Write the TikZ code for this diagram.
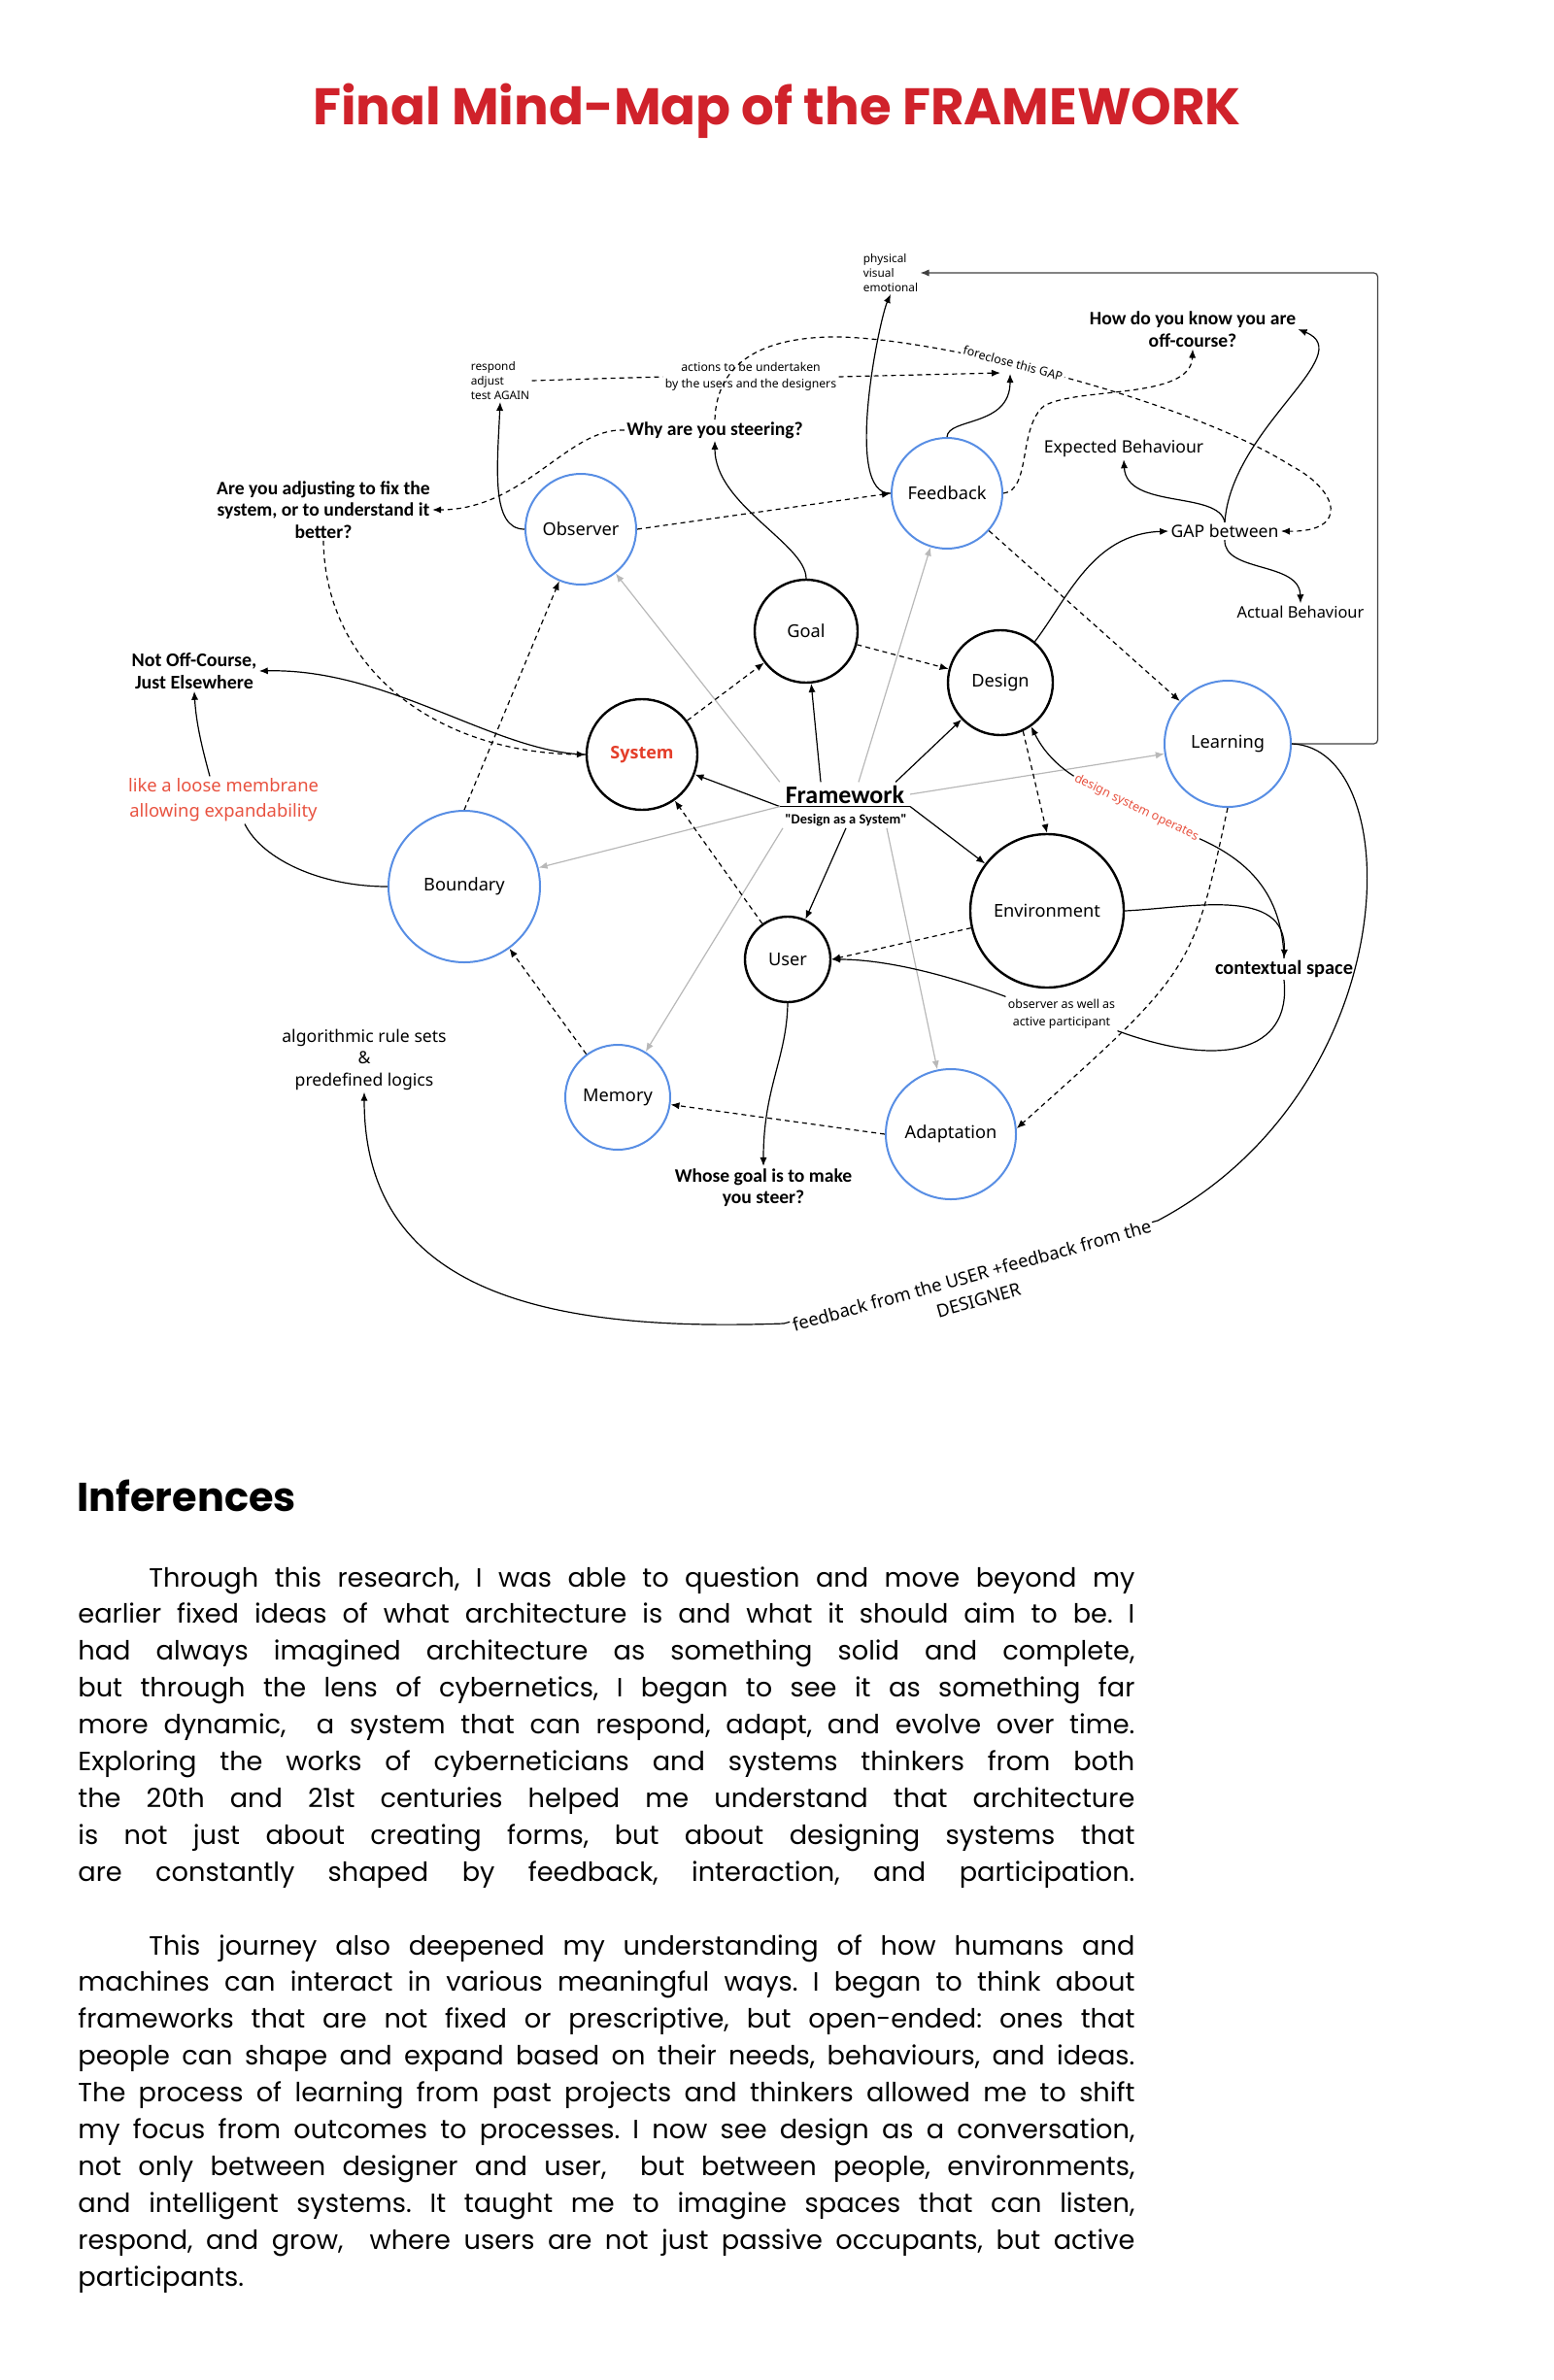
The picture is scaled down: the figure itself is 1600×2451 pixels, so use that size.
\documentclass[tikz,border=0pt]{standalone}
\usepackage{fontspec}
\setmainfont{Poppins}
\newfontfamily\notosans{Noto Sans}
\newfontfamily\opensans{Open Sans}
\newfontfamily\carlito{Carlito}
\usetikzlibrary{arrows.meta,calc}
\definecolor{titlered}{RGB}{208,34,43}
\definecolor{notered}{RGB}{232,82,64}
\definecolor{sysred}{RGB}{228,62,42}
\definecolor{nodeblue}{RGB}{88,142,228}
\definecolor{linegray}{RGB}{184,184,184}
\frenchspacing
% one justified line of the closing text
\newcommand{\fullline}[1]{\hbox to 544pt{#1}}
\tikzset{
% Two circle styles for the mind-map: black rim and blue rim
black node/.style={circle,draw,line width=1.2pt,inner sep=0,font=\notosans\fontsize{9.1}{11}\selectfont},
blue node/.style={circle,draw=nodeblue,line width=1pt,inner sep=0,font=\notosans\fontsize{9.1}{11}\selectfont},
% Free texts round the circles
note text/.style={inner sep=1pt,align=center,font=\notosans\fontsize{8.8}{11.25}\selectfont},
small text/.style={inner sep=1pt,align=left,font=\notosans\fontsize{5.9}{7.5}\selectfont},
bold text/.style={inner sep=1pt,align=center,font=\carlito\bfseries\fontsize{9.8}{11.25}\selectfont},
% Connectors: plain, dashed and grey
bare link/.style={line width=0.6pt},
link/.style={bare link,-{Latex[length=4.5pt,width=3.6pt]}},
dashed line/.style={bare link,dash pattern=on 2.5pt off 2pt},
dashed link/.style={dashed line,-{Latex[length=4.5pt,width=3.6pt]}},
gray link/.style={link,draw=linegray}
}

\begin{document}
\begin{tikzpicture}[x=0.5pt,y=-0.5pt]
\useasboundingbox (0,0) rectangle (1600,2451);
% Title
\node[anchor=base,inner sep=0,text=titlered,font=\bfseries\fontsize{26.5}{30}\selectfont] (title) at (800,129) {Final Mind-Map of the FRAMEWORK};
% The circles
\node[blue node,minimum size=57pt] (obs) at (598,545) {Observer};
\node[blue node,minimum size=57pt] (fb) at (975,508) {Feedback};
\node[black node,minimum size=53pt] (goal) at (830,650) {Goal};
\node[black node,minimum size=54pt] (des) at (1030,703) {Design};
\node[black node,minimum size=57pt,text=sysred,font=\opensans\bfseries\fontsize{9}{11}\selectfont] (sys) at (661,777) {System};
\node[blue node,minimum size=65pt] (lrn) at (1264,766) {Learning};
\node[blue node,minimum size=78pt] (bnd) at (478,913) {Boundary};
\node[black node,minimum size=79pt] (env) at (1078,938) {Environment};
\node[black node,minimum size=44pt] (usr) at (811,988) {User};
\node[blue node,minimum size=54pt] (mem) at (636,1130) {Memory};
\node[blue node,minimum size=67pt] (adp) at (979,1168) {Adaptation};
% Framework in the middle
\node[anchor=base,inner xsep=2.75pt,inner ysep=1.5pt,font=\carlito\bfseries\fontsize{13}{15}\selectfont] (fw) at (870,827) {Framework};
\node[anchor=base,inner sep=1pt,font=\carlito\bfseries\fontsize{7.2}{9}\selectfont] (fwsub) at (871,848) {"Design as a System"};
\draw[bare link] (fw.south west) -- (fw.south east);
% Texts round the circles
\node[small text] (phys) at (917,281) {physical\\visual\\emotional};
\node[bold text] (howq) at (1228,339) {How do you know you are\\off-course?};
\node[small text] (resp) at (515,392) {respond\\adjust\\test AGAIN};
\node[small text,align=center,font=\notosans\fontsize{6.1}{8.5}\selectfont] (act) at (773,388) {actions to be undertaken\\by the users and the designers};
\node[bold text] (why) at (736,443) {Why are you steering?};
\node[note text] (expb) at (1157,462) {Expected Behaviour};
\node[bold text] (adjq) at (333,525) {Are you adjusting to fix the\\system, or to understand it\\better?};
\node[note text] (gap) at (1261,547) {GAP between};
\node[note text,font=\notosans\fontsize{8.2}{10}\selectfont] (actb) at (1339,630) {Actual Behaviour};
\node[bold text,font=\carlito\bfseries\fontsize{10}{11.3}\selectfont] (notoff) at (200,691) {Not Off-Course,\\Just Elsewhere};
\node[note text,text=notered,font=\notosans\fontsize{9.2}{13}\selectfont] (membr) at (230,824) {like a loose membrane\\allowing expandability};
\node[bold text,font=\carlito\bfseries\fontsize{10.2}{12}\selectfont] (ctx) at (1322,998) {contextual space};
\node[small text,align=center,font=\notosans\fontsize{6.2}{9}\selectfont] (obsp) at (1093,1044) {observer as well as\\active participant};
\node[note text] (algo) at (375,1091) {algorithmic rule sets\\\&\\predefined logics};
\node[bold text] (whose) at (786,1223) {Whose goal is to make\\you steer?};
\coordinate (gaptip) at (1040,385);

% Spokes out of the framework
\draw[gray link] (fw.north west) -- (obs);
\draw[gray link] ($(fw.north)+(14,0)$) -- (fb);
\draw[link] ($(fw.north)+(-25,0)$) -- (goal);
\draw[link] ($(fw.north east)+(-15,0)$) -- (des);
\draw[gray link] (fw.east) -- (lrn);
\draw[link] (fw.south west) -- (sys);
\draw[link] (fw.south east) -- (env);
\draw[gray link] (fw.south west) -- (bnd);
\draw[link] (fwsub.south) -- (usr);
\draw[gray link] (fwsub.south west) -- (mem);
\draw[gray link] ($(fwsub.south)+(42,0)$) -- (adp);

% Dashed links between circles
\draw[dashed link] (sys) -- (goal);
\draw[dashed link] (goal) -- (des);
\draw[dashed link] (obs.east) -- (fb.west);
\draw[dashed link] (bnd.north) -- (obs);
\draw[dashed link] (mem) -- (bnd);
\draw[dashed link] (usr) -- (sys);
\draw[dashed link] (adp.west) -- (mem);
\draw[dashed link] (env) -- (usr.east);
\draw[dashed link] (des.-65) -- (env.north);
\draw[dashed link] (fb) -- (lrn);
\draw[dashed link] (lrn.south) .. controls (1228,1000) .. (adp.5);

% Upper loop: observer, feedback and the gap
\draw[link] (fb.west) .. controls (868,510) and (905,330) .. (phys.south);
\draw[link] (fb.north) .. controls (976,430) and (1040,440) .. (gaptip);
\draw[dashed link] (act.east) -- ($(gaptip)+(-10,-1)$);
\draw[dashed line] (resp.east) -- (act.west);
\draw[link] (obs.west) .. controls (505,545) and (512,480) .. (resp.south);
\draw[link] (goal.north) .. controls (830,560) and (736,520) .. (why.south);
\draw[dashed link] (why.west) .. controls (585,440) and (540,525) .. (adjq.east);
\draw[dashed link] (adjq.south) .. controls (335,690) and (450,775) .. (sys.west);
\draw[link] (sys.west) .. controls (510,775) and (400,688) .. (notoff.east);
\draw[link] ($(membr.north)+(-14,0)$) .. controls (208,770) and (202,745) .. (notoff.south);
\draw[bare link] (bnd.west) .. controls (330,913) and (270,885) .. ($(membr.south)+(22,0)$);
\draw[link] (des.50) .. controls (1100,615) and (1125,550) .. (gap.west);
\draw[link] (gap.north) .. controls (1255,505) and (1160,525) .. (expb.south);
\draw[link] (gap.north) .. controls (1268,440) and (1400,365) .. (howq.east);
\draw[link] (gap.south) .. controls (1260,590) and (1338,578) .. (actb.north);
\draw[dashed link] (fb.east) .. controls (1062,505) and (1048,440) .. (1075,418) .. controls (1110,398) and (1226,412) .. (howq.south);
\draw[dashed link] (why.north) .. controls (738,370) and (790,347) .. (860,347) .. controls (960,347) and (1220,410) .. (1330,480) .. controls (1378,505) and (1390,548) .. (gap.east);

% Lower loop: environment, user and context
\draw[link] (env.east) .. controls (1225,935) and (1325,912) .. (ctx.north);
\draw[link] (ctx.north) .. controls (1320,920) and (1285,885) .. (1231,862) -- (1110,802) .. controls (1090,790) and (1075,775) .. (des.-55);
\draw[bare link] (ctx.south) .. controls (1330,1085) and (1255,1100) .. (obsp.south east);
\draw[link] (obsp.north west) .. controls (965,1000) and (905,988) .. (usr.east);
\draw[link] (usr.south) .. controls (810,1090) and (786,1120) .. (whose.north);

% Learning feeds back
\draw[link,draw=black!75,rounded corners=2pt] (lrn.east) -| ($(phys.east)+(471,0)$) -- (phys.east);
\draw[link] (lrn.east) .. controls (1450,770) and (1450,1120) .. (1192,1257) -- (807,1363) .. controls (560,1372) and (375,1330) .. (algo.south);

% Labels sitting on the lines
\node[small text,fill=white,rotate=-15,font=\notosans\fontsize{6.2}{8}\selectfont] (fcl) at (1043,374) {foreclose this GAP};
\node[small text,fill=white,rotate=-26,text=notered,font=\notosans\fontsize{6.3}{8}\selectfont] (dso) at (1170,832) {design system operates};
\node[note text,fill=white,rotate=15.5,font=\notosans\fontsize{9.2}{13}\selectfont] (fbl) at (1004,1326) {feedback from the USER +feedback from the\\DESIGNER};

% Closing text
\node[anchor=base west,inner sep=0,font=\bfseries\fontsize{20.7}{24}\selectfont] (head) at (79,1556) {Inferences};
\node[anchor=base west,inner sep=0,font=\fontsize{13.6}{18.95}\selectfont] (body) at (80,1634) {\vtop{%
\fullline{\hskip36.5pt Through this research, I was able to question and move beyond my}
\fullline{earlier fixed ideas of what architecture is and what it should aim to be. I}
\fullline{had always imagined architecture as something solid and complete,}
\fullline{but through the lens of cybernetics, I began to see it as something far}
\fullline{more dynamic,\ \ a system that can respond, adapt, and evolve over time.}
\fullline{Exploring the works of cyberneticians and systems thinkers from both}
\fullline{the 20th and 21st centuries helped me understand that architecture}
\fullline{is not just about creating forms, but about designing systems that}
\fullline{are constantly shaped by feedback, interaction, and participation.}
\vskip18.95pt
\fullline{\hskip36.5pt This journey also deepened my understanding of how humans and}
\fullline{machines can interact in various meaningful ways. I began to think about}
\fullline{frameworks that are not fixed or prescriptive, but open-ended: ones that}
\fullline{people can shape and expand based on their needs, behaviours, and ideas.}
\fullline{The process of learning from past projects and thinkers allowed me to shift}
\fullline{my focus from outcomes to processes. I now see design as a conversation,}
\fullline{not only between designer and user,\ \ but between people, environments,}
\fullline{and intelligent systems. It taught me to imagine spaces that can listen,}
\fullline{respond, and grow,\ \ where users are not just passive occupants, but active}
\hbox{participants.}}};
\end{tikzpicture}
\end{document}
